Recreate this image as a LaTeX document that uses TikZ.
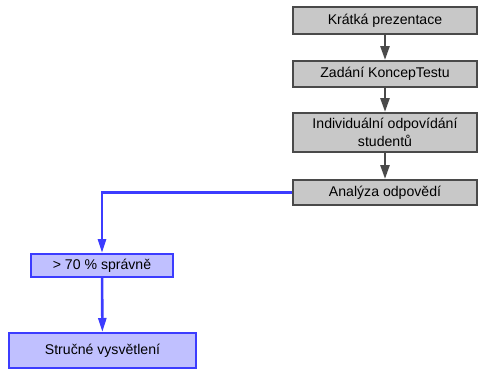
\documentclass[tikz,border=0pt]{standalone}
\usepackage{fontspec}
\setmainfont{Liberation Sans}
\usetikzlibrary{arrows.meta}
\definecolor{grayfill}{HTML}{C8C8C8}
\definecolor{grayline}{HTML}{4A4A4A}
\definecolor{bluefill}{HTML}{C0C0FF}
\definecolor{blueline}{HTML}{3C3CFF}
\tikzset{
  box/.style={draw, line width=2pt, inner sep=0pt, align=center,
    font=\fontsize{14.1}{17.5}\selectfont},
  graybox/.style={box, draw=grayline, fill=grayfill},
  bluebox/.style={box, draw=blueline, fill=bluefill},
  grayarrow/.style={draw=grayline, line width=2.6pt,
    -{Triangle[length=14pt,width=9pt]}},
  bluearrow/.style={draw=blueline, line width=2.6pt,
    -{Triangle[length=14pt,width=8pt]}},
}
\begin{document}
\begin{tikzpicture}[x=1pt,y=1pt]
\useasboundingbox (0,0) rectangle (479,-370);
\node[graybox, minimum width=184pt, minimum height=27pt] (b1) at (385,-20.5) {Krátká prezentace};
\node[graybox, minimum width=184pt, minimum height=26pt] (b2) at (385,-74) {Zadání KoncepTestu};
\node[graybox, minimum width=184pt, minimum height=39pt] (b3) at (385,-132.5) {Individuální odpovídání\\studentů};
\node[graybox, minimum width=184pt, minimum height=25pt] (b4) at (385,-192.5) {Analýza odpovědí};
\node[bluebox, minimum width=142pt, minimum height=23pt] (b5) at (102,-265.5) {> 70 \% správně};
\node[bluebox, minimum width=187pt, minimum height=35pt] (b6) at (102.5,-350.5) {Stručné vysvětlení};
\draw[grayarrow] (b1) -- (b2);
\draw[grayarrow] (b2) -- (b3);
\draw[grayarrow] (b3) -- (b4);
\draw[bluearrow] (b4.west) -| (b5.north);
\draw[bluearrow] (b5) -- (b6);
\end{tikzpicture}
\end{document}
